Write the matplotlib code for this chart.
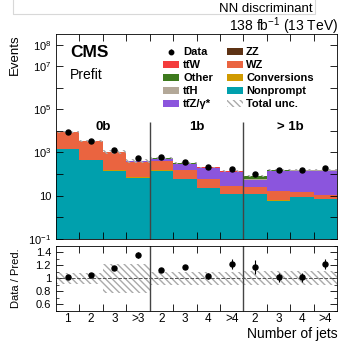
import numpy as np
import matplotlib
matplotlib.use("Agg")
import matplotlib.pyplot as plt
from matplotlib.patches import Rectangle

plt.rcParams.update({
    "font.family": ["Liberation Sans", "DejaVu Sans"],
    "mathtext.fontset": "custom",
    "mathtext.rm": "Liberation Sans",
    "mathtext.bf": "Liberation Sans:bold",
    "mathtext.it": "Liberation Sans:italic",
    "font.size": 8,
})

# bins: 0b (1,2,3,>3 jets), 1b (2,3,4,>4), >1b (2,3,4,>4)
tick_labels = ["1", "2", "3", ">3", "2", "3", "4", ">4", "2", "3", "4", ">4"]
groups = ["0b", "1b", "> 1b"]

# stacked predictions, bottom to top
nonprompt = [1380, 470, 145, 69, 145, 57, 23, 12, 12, 5.9, 8.3, 6.7]
conversions = [5, 3, 1.5, 0.8, 2, 1, 0.5, 0.3, 0.5, 0.5, 0.3, 0.3]
wz = [7100, 2830, 890, 280, 245, 96, 38, 15, 13, 10.5, 5.5, 3.2]
zz = [60, 25, 8, 3, 3, 1, 0.5, 0.3, 0.5, 0.3, 0.2, 0.2]
ttz = [20, 15, 12, 35, 85, 140, 125, 95, 27, 118, 128, 135]
tth = [2, 2, 2, 2, 6, 6, 5, 4, 3, 5, 5, 5]
other = [80, 40, 15, 8, 75, 12, 5, 4, 26, 7, 6, 6]
ttw = [3, 3, 3, 3, 8, 6, 5, 4, 3, 4, 4, 4]

# data / prediction and uncertainties
ratio = [1.02, 1.05, 1.16, 1.36, 1.13, 1.17, 1.04, 1.22, 1.18, 1.02, 1.02, 1.22]
ratio_err = [0.01, 0.015, 0.02, 0.04, 0.03, 0.03, 0.05, 0.08, 0.11, 0.07, 0.07, 0.08]
unc_frac = [0.09, 0.09, 0.22, 0.22, 0.1, 0.1, 0.1, 0.1, 0.11, 0.11, 0.11, 0.11]

C = {
    "Nonprompt": "#00a0ad", "Conversions": "#d09a00", "WZ": "#ea6440",
    "ZZ": "#5d3214", "ttZ": "#8b55dd", "ttH": "#b3a898", "Other": "#3d7a1d",
    "ttW": "#f43c3c",
}
stack = [(nonprompt, "Nonprompt"), (conversions, "Conversions"), (wz, "WZ"),
         (zz, "ZZ"), (ttz, "ttZ"), (tth, "ttH"), (other, "Other"), (ttw, "ttW")]
HATCH = "\\\\\\\\\\"
HCOL = "#aaaaaa"

n = len(tick_labels)
edges = np.arange(n + 1)
centers = edges[:-1] + 0.5

fig = plt.figure(figsize=(3.56, 3.46), dpi=100)
ax = fig.add_axes([0.157, 0.310, 0.790, 0.592])
rx = fig.add_axes([0.157, 0.102, 0.790, 0.187])

base = np.zeros(n)
for vals, key in stack:
    top = base + np.array(vals)
    ax.stairs(top, edges, baseline=base, fill=True, color=C[key], lw=0)
    base = top
total = base

unc = np.array(unc_frac)
ax.stairs(total * (1 + unc), edges, baseline=total * (1 - unc), fill=True,
          facecolor="none", edgecolor=HCOL, hatch=HATCH, lw=0)
data = total * np.array(ratio)
ax.errorbar(centers, data, yerr=total * np.array(ratio_err), fmt="o", color="k",
            ms=3.6, elinewidth=0.8, capsize=0)

ax.set_yscale("log")
ax.set_ylim(0.1, 10 ** 8.5)
ax.set_xlim(0, n)
ax.set_yticks([10.0 ** k for k in range(-1, 9)])
lab = {8: r"$10^8$", 7: r"$10^7$", 5: r"$10^5$", 3: r"$10^3$", 1: "10", -1: r"$10^{-1}$"}
ax.set_yticklabels([lab.get(k, "") for k in range(-1, 9)])
ax.yaxis.set_minor_locator(matplotlib.ticker.NullLocator())
ax.set_xticks(edges[1:-1])
ax.set_xticklabels([])
ax.tick_params(direction="in", top=True, right=True, length=5, width=0.6, labelsize=8)
ax.set_ylabel("Events", fontsize=9.5, loc="top")

for b in (4, 8):
    ax.vlines(b, 0.1, 2.5e4, color="#444444", lw=1.0)
    rx.axvline(b, color="#444444", lw=1.0)
for i, g in enumerate(groups):
    ax.text(4 * i + 2, 1.45e4, g, ha="center", va="center", fontsize=9.5, fontweight="bold")

ax.text(0.05, 0.945, "CMS", transform=ax.transAxes, fontsize=12.5, fontweight="bold", va="top")
ax.text(0.05, 0.835, "Prefit", transform=ax.transAxes, fontsize=10, va="top")
fig.text(338 / 356, 1 - 31 / 346, r"138 fb$^{-1}$ (13 TeV)", ha="right",
         va="baseline", fontsize=10)

# legend, two columns drawn by hand
def px(x, y):
    return (x - 56) / 281, (238.7 - y) / 204.7

col1 = [("Data", None), ("tt\u0304W", "ttW"), ("Other", "Other"),
        ("tt\u0304H", "ttH"), ("tt\u0304Z/\u03b3*", "ttZ")]
col2 = [("ZZ", "ZZ"), ("WZ", "WZ"), ("Conversions", "Conversions"),
        ("Nonprompt", "Nonprompt"), ("Total unc.", "unc")]
rows_y = [52, 65, 78, 91, 104]
bw, bh = 16 / 281, 7 / 204.7
for (x_box, x_txt), col in (((163, 183), col1), ((227, 246), col2)):
    for (label, key), y in zip(col, rows_y):
        fx, fy = px(x_box, y)
        if key is None:
            ax.errorbar([fx + bw / 2], [fy], yerr=[0.012], fmt="o", color="k", ms=3.2,
                        elinewidth=0.8, transform=ax.transAxes, clip_on=False)
        elif key == "unc":
            ax.add_patch(Rectangle((fx, fy - bh / 2), bw, bh, transform=ax.transAxes,
                                   facecolor="none", edgecolor=HCOL, hatch=HATCH, lw=0))
        else:
            ax.add_patch(Rectangle((fx, fy - bh / 2), bw, bh, transform=ax.transAxes,
                                   facecolor=C[key], lw=0))
        tx, ty = px(x_txt, y)
        ax.text(tx, ty, label, transform=ax.transAxes, va="center", ha="left",
                fontsize=8, fontweight="bold")

# ratio panel
rx.stairs(1 + unc, edges, baseline=1 - unc, fill=True, facecolor="none",
          edgecolor=HCOL, hatch=HATCH, lw=0)
rx.axhline(1, color="#555555", ls="--", lw=0.7)
rx.errorbar(centers, ratio, yerr=ratio_err, fmt="o", color="k", ms=3.6,
            elinewidth=0.8, capsize=0)
rx.set_xlim(0, n)
rx.set_ylim(0.5, 1.5)
rx.set_yticks([0.6, 0.8, 1.0, 1.2, 1.4])
rx.set_yticklabels(["0.6", "0.8", "1", "1.2", "1.4"])
rx.yaxis.set_minor_locator(matplotlib.ticker.MultipleLocator(0.1))
rx.set_xticks(edges[1:-1])
rx.set_xticklabels([])
rx.set_xticks(centers, minor=True)
rx.set_xticklabels(tick_labels, minor=True)
rx.tick_params(axis="x", which="minor", length=0, labelsize=8.5, pad=2)
rx.tick_params(which="major", direction="in", top=True, right=True, length=5,
               width=0.6, labelsize=8)
rx.tick_params(axis="y", which="minor", direction="in", right=True, length=2.5, width=0.5)
rx.set_ylabel("Data / Pred.", fontsize=8)
rx.set_xlabel("Number of jets", fontsize=10, loc="right", labelpad=1)
rx.yaxis.set_label_coords(-0.125, 0.5)
ax.yaxis.set_label_coords(-0.125, 1.0)

# leftover header box from the panel above
fig.patches.append(Rectangle((13 / 356, 1 - 14 / 346), 302 / 356, 0.1,
                             transform=fig.transFigure, fill=False,
                             edgecolor="#d8d8d8", lw=0.8))
fig.text(313 / 356, 1 - 12 / 346, "NN discriminant", ha="right", va="baseline", fontsize=9.5)

for a in (ax, rx):
    for s in a.spines.values():
        s.set_linewidth(0.6)

fig.savefig("out.png", dpi=100)
